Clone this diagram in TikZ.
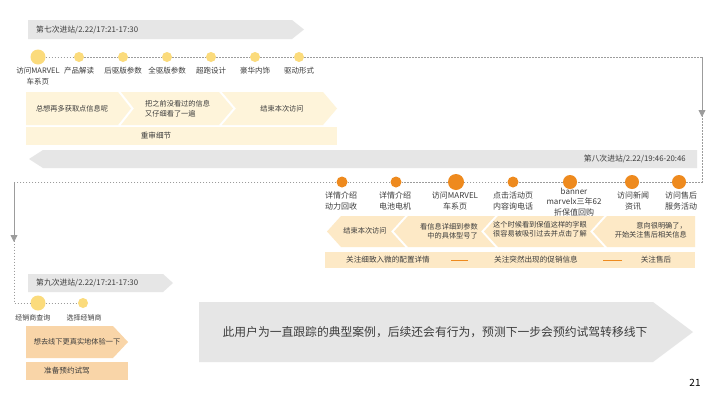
\documentclass[tikz,border=0pt]{standalone}
\usepackage{fontspec}
\setmainfont{Noto Sans CJK SC}
\usetikzlibrary{arrows.meta}
\definecolor{cBand}{HTML}{E6E6E6}
\definecolor{cCream}{HTML}{FEF4DA}
\definecolor{cPeach}{HTML}{FDE9C6}
\definecolor{cPeachB}{HTML}{F9D5A8}
\definecolor{cYel}{HTML}{FBDB7C}
\definecolor{cOra}{HTML}{EE8A1E}
\definecolor{cTxt}{HTML}{3C3C3C}
\definecolor{cLine}{HTML}{9C9C9C}
\begin{document}
\begin{tikzpicture}[x=1pt,y=-1pt,
  ttl/.style={font=\fontsize{7.8}{9}\selectfont, text=cTxt, inner sep=0},
  lblA/.style={font=\fontsize{7.5}{11}\selectfont, text=cTxt, align=center, inner sep=0},
  lblB/.style={font=\fontsize{8}{10.2}\selectfont, text=cTxt, align=center, inner sep=0},
  chtxt/.style={font=\fontsize{7.2}{9.5}\selectfont, text=cTxt, inner sep=0},
  bartxt/.style={font=\fontsize{7.6}{9}\selectfont, text=cTxt, inner sep=0},
  dotline/.style={draw=cLine, line width=0.8pt, dash pattern=on 1.5pt off 1.5pt},
  ydot/.style={circle, fill=cYel, inner sep=0, minimum size=#1},
  odot/.style={circle, fill=cOra, inner sep=0, minimum size=#1},
  tipline/.style={draw=cLine, line width=0.8pt, -{Triangle[width=7pt,length=7pt]}}
]
\useasboundingbox[fill=white] (0,0) rectangle (720,405);

% ---------------- seventh visit ----------------
\fill[cBand] (28,20) -- (292,20) -- (304,29.5) -- (292,39) -- (28,39) -- cycle;
\node[ttl, anchor=west] (t7) at (36,29.5) {第七次进站/2.22/17:21-17:30};

\node[ydot=15pt] (a1) at (38,57) {};
\node[ydot=10pt] (a2) at (79,57) {};
\node[ydot=10pt] (a3) at (123,57) {};
\node[ydot=10pt] (a4) at (167,57) {};
\node[ydot=10pt] (a5) at (211,57) {};
\node[ydot=10pt] (a6) at (255,57) {};
\node[ydot=10pt] (a7) at (299,57) {};

\node[lblA, anchor=north] (la1) at (38,67) {访问MARVEL\\车系页};
\node[lblA, anchor=north] (la2) at (79,67) {产品解读};
\node[lblA, anchor=north] (la3) at (123,67) {后驱版参数};
\node[lblA, anchor=north] (la4) at (167,67) {全驱版参数};
\node[lblA, anchor=north] (la5) at (211,67) {超跑设计};
\node[lblA, anchor=north] (la6) at (255,67) {豪华内饰};
\node[lblA, anchor=north] (la7) at (299,67) {驱动形式};

\fill[cCream] (26,92) -- (118,92) -- (131,108.5) -- (118,125) -- (26,125) -- cycle;
\fill[cCream] (121,92) -- (219,92) -- (233,108.5) -- (219,125) -- (121,125) -- (134,108.5) -- cycle;
\fill[cCream] (222,92) -- (323,92) -- (337,108.5) -- (323,125) -- (222,125) -- (236,108.5) -- cycle;
\node[chtxt] (s1) at (72,109) {总想再多获取点信息呢};
\node[chtxt, anchor=west, align=left] (s2) at (145,108.5) {把之前没看过的信息\\又仔细看了一遍};
\node[chtxt] (s3) at (282,109) {结束本次访问};
\fill[cCream] (26,127) rectangle (337,145);
\node[bartxt] (s4) at (156,136) {重审细节};

% ---------------- eighth visit ----------------
\fill[cBand] (697,150) -- (43,150) -- (29,159) -- (43,168) -- (697,168) -- cycle;
\node[ttl, anchor=east] (t8) at (686,159) {第八次进站/2.22/19:46-20:46};

\node[odot=11pt] (b1) at (342,182) {};
\node[odot=11pt] (b2) at (396,182) {};
\node[odot=16pt] (b3) at (456,182) {};
\node[odot=11pt] (b4) at (513,182) {};
\node[odot=14pt] (b5) at (570,182) {};
\node[odot=14pt] (b6) at (632,182) {};
\node[odot=14pt] (b7) at (679,182) {};

\node[lblB] (lb1) at (341,201) {详情介绍\\动力回收};
\node[lblB] (lb2) at (395,201) {详情介绍\\电池电机};
\node[lblB] (lb3) at (455,201) {访问MARVEL\\车系页};
\node[lblB] (lb4) at (513,201) {点击活动页\\内容询电话};
\node[lblB] (lb5) at (574,202) {banner\\marvelx三年62\\折保值回购};
\node[lblB] (lb6) at (633,201) {访问新闻\\资讯};
\node[lblB] (lb7) at (681,201) {访问售后\\服务活动};

\fill[cPeach] (327,231.5) -- (341,216) -- (405,216) -- (391,231.5) -- (405,247) -- (341,247) -- cycle;
\fill[cPeach] (394,231.5) -- (408,216) -- (495,216) -- (481,231.5) -- (495,247) -- (408,247) -- cycle;
\fill[cPeach] (484,231.5) -- (498,216) -- (604,216) -- (590,231.5) -- (604,247) -- (498,247) -- cycle;
\fill[cPeach] (593,231.5) -- (607,216) -- (695,216) -- (695,247) -- (607,247) -- cycle;
\node[chtxt] (e1) at (365,231) {结束本次访问};
\node[chtxt, anchor=east, align=right] (e2) at (478,231) {看信息详细到参数\\中的具体型号了};
\node[chtxt, anchor=west, align=left] (e3) at (493,229.5) {这个时候看到保值这样的字眼\\很容易被吸引过去并点击了解};
\node[chtxt, anchor=east, align=right] (e4) at (687,230) {意向很明确了，\\开始关注售后相关信息};

\fill[cPeach] (325,252) rectangle (695,268);
\node[bartxt] (f1) at (388,260) {关注细致入微的配置详情};
\node[bartxt] (f2) at (536,260) {关注突然出现的促销信息};
\node[bartxt] (f3) at (656,260) {关注售后};
\coordinate (g1a) at (468,260); \coordinate (g1b) at (451,260);
\coordinate (g2a) at (622,260); \coordinate (g2b) at (603,260);
\draw[cOra, line width=1pt] (g1a) -- (g1b);
\draw[cOra, line width=1pt] (g2a) -- (g2b);

% ---------------- ninth visit ----------------
\fill[cBand] (28,274) -- (163,274) -- (173,283) -- (163,292) -- (28,292) -- cycle;
\node[ttl, anchor=west] (t9) at (36,283) {第九次进站/2.22/17:21-17:30};

\node[ydot=15pt] (c1) at (38,303) {};
\node[ydot=10pt] (c2) at (83,303) {};
\node[lblA, font=\fontsize{7}{11}\selectfont] (lc1) at (33,318) {经销商查询};
\node[lblA, font=\fontsize{7}{11}\selectfont] (lc2) at (84,318) {选择经销商};

\fill[cPeachB] (26,326) -- (113,326) -- (128,342) -- (113,358) -- (26,358) -- cycle;
\node[chtxt] (h1) at (77,342) {想去线下更真实地体验一下};
\fill[cPeachB] (26,362) rectangle (128,380);
\node[bartxt] (h2) at (67,371) {准备预约试驾};

% ---------------- dotted connectors ----------------
\coordinate (r1) at (702,57);
\coordinate (rm) at (702,117);
\coordinate (r2) at (702,182);
\coordinate (l1) at (14,182);
\coordinate (lm) at (14,242);
\coordinate (l2) at (14,303);
\draw[dotline] (a1) -- (a2) -- (a3) -- (a4) -- (a5) -- (a6) -- (a7) -- (r1) -- (r2) -- (b7)
  -- (b6) -- (b5) -- (b4) -- (b3) -- (b2) -- (b1) -- (l1) -- (l2) -- (c1) -- (c2);
\draw[tipline] (r1) -- (rm);
\draw[tipline] (l1) -- (lm);

% ---------------- summary arrow ----------------
\fill[cBand] (199,302) -- (653,302) -- (693,332) -- (653,362) -- (199,362) -- cycle;
\node[font=\fontsize{11.8}{14}\selectfont, text=cTxt, inner sep=0] (sum) at (435,332)
  {此用户为一直跟踪的典型案例，后续还会有行为，预测下一步会预约试驾转移线下};

\node[font=\fontsize{10}{12}\selectfont, text=black, inner sep=0] (pg) at (695,383) {21};
\end{tikzpicture}
\end{document}
